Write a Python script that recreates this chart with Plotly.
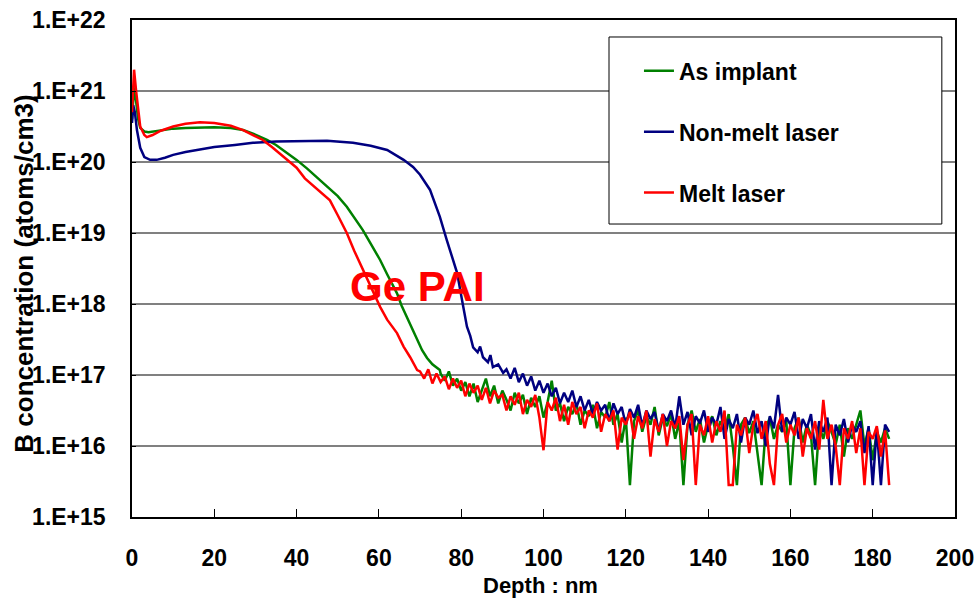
import plotly.graph_objects as go

# ---------------- data (depth in nm, concentration as log10(atoms/cm3)) ----------------
green_depth = [0, 0.5, 1, 1.5, 2, 3, 4, 6, 8, 10, 13, 16.5, 20, 24, 27, 29.4, 31, 32.8, 35, 37,
               40, 42.5, 45.2, 48, 50, 52.2, 54, 56.1, 58, 60.3, 62, 64.4, 65.5, 66.8, 68, 69.3,
               70.5, 71.7, 73, 74.8]
green_log = [20.6, 21.05, 20.85, 20.6, 20.48, 20.43, 20.42, 20.44, 20.46, 20.47, 20.48, 20.49,
             20.49, 20.48, 20.45, 20.40, 20.36, 20.31, 20.24, 20.16, 20.03, 19.91, 19.77, 19.63,
             19.52, 19.37, 19.22, 19.04, 18.85, 18.62, 18.42, 18.15, 17.98, 17.82, 17.65, 17.49,
             17.35, 17.24, 17.15, 17.07]
green_tail_depth = list(range(75, 185))
green_tail_log = [17.02, 16.92, 17.05, 16.85, 16.95, 16.78, 16.9, 16.7, 16.88, 16.62,
                  16.8, 16.95, 16.7, 16.85, 16.6, 16.78, 16.65, 16.5, 16.75, 16.6,
                  16.72, 16.45, 16.68, 16.55, 16.7, 16.4, 16.62, 16.92, 16.5, 16.6,
                  16.35, 16.55, 16.45, 16.6, 16.3, 16.5, 16.42, 16.58, 16.25, 16.48,
                  16.4, 16.62, 16.3, 16.45, 16.05, 16.4, 15.45, 16.35, 16.5, 16.2,
                  16.42, 16.3, 16.55, 16.15, 16.4, 16.28, 16.45, 16.1, 16.35, 15.45,
                  16.3, 16.5, 16.2, 16.38, 16.05, 16.3, 16.42, 16.15, 16.35, 16.22,
                  16.45, 16.0, 15.45, 16.3, 16.4, 16.18, 16.35, 15.9, 15.45, 16.25,
                  16.4, 16.1, 16.3, 16.2, 16.35, 15.45, 16.25, 16.4, 16.05, 16.3,
                  16.15, 15.45, 16.28, 16.1, 16.35, 16.2, 16.02, 16.3, 15.85, 16.25,
                  16.1, 16.3, 16.5, 16.0, 16.25, 15.8, 16.2, 16.05, 16.25, 16.1]

blue_depth = [0, 0.3, 0.7, 1.2, 2, 3, 4.4, 6, 8, 10, 13, 16.5, 20, 25, 29.4, 35, 41.6, 47.4,
              53.7, 58, 62, 64, 66, 68.3, 70, 72.4, 74.8, 76.5, 79, 80.5, 81.4, 82.2, 82.9,
              84, 84.6, 85.3, 86.5, 87.1, 87.7, 89, 90.2]
blue_log = [20.55, 20.8, 20.7, 20.45, 20.2, 20.07, 20.03, 20.03, 20.06, 20.1, 20.14, 20.18,
            20.21, 20.24, 20.27, 20.29, 20.30, 20.30, 20.27, 20.23, 20.17, 20.10, 20.03,
            19.93, 19.82, 19.61, 19.23, 18.9, 18.44, 17.96, 17.68, 17.55, 17.39, 17.32,
            17.4, 17.25, 17.18, 17.28, 17.11, 17.15, 17.03]
blue_tail_depth = list(range(91, 185))
blue_tail_log = [17.08, 16.95, 17.1, 16.9, 17.02, 16.85, 16.98, 16.78, 16.92, 16.75,
                 16.88, 16.7, 16.82, 16.6, 16.75, 16.62, 16.78, 16.55, 16.7, 16.5,
                 16.65, 16.45, 16.62, 16.5, 16.58, 16.35, 16.6, 16.45, 16.55, 16.3,
                 16.52, 16.4, 16.58, 16.28, 16.5, 16.38, 16.48, 16.2, 16.45, 16.35,
                 16.5, 16.25, 16.7, 16.3, 16.48, 16.15, 16.42, 16.32, 16.5, 16.2,
                 16.4, 16.3, 16.55, 16.1, 16.38, 16.25, 16.45, 16.05, 16.4, 16.3,
                 16.5, 16.18, 16.35, 16.0, 16.42, 16.25, 16.72, 16.2, 16.4, 16.3,
                 16.48, 16.1, 16.38, 16.25, 16.45, 15.95, 16.35, 16.2, 16.4, 15.45,
                 16.3, 16.15, 16.38, 16.05, 16.3, 16.2, 16.35, 15.9, 16.28, 15.45,
                 16.25, 15.45, 16.3, 16.2]

red_depth = [0, 0.5, 1, 1.5, 2, 3, 3.6, 5, 7, 10, 13, 16.5, 20, 24, 27, 29.4, 31.8, 34, 37.7,
             40, 42, 45, 48.1, 50, 52.2, 54, 56.1, 58, 60.3, 62, 64.4, 66, 67.6, 69.3]
red_log = [20.7, 21.3, 21.0, 20.7, 20.5, 20.38, 20.35, 20.38, 20.44, 20.5, 20.54, 20.56,
           20.55, 20.51, 20.45, 20.38, 20.31, 20.21, 20.03, 19.92, 19.77, 19.62, 19.46,
           19.25, 19.0, 18.75, 18.48, 18.25, 17.96, 17.78, 17.59, 17.4, 17.25, 17.07]
red_tail_depth = list(range(70, 185))
red_tail_log = [17.05, 16.95, 17.08, 16.88, 17.02, 16.9, 16.98, 16.8, 16.95, 16.82,
                16.92, 16.7, 16.88, 16.75, 16.85, 16.65, 16.82, 16.6, 16.78, 16.68,
                16.72, 16.5, 16.7, 16.58, 16.75, 16.45, 16.65, 16.55, 16.72, 16.4,
                15.94, 16.62, 16.5, 16.68, 16.35, 16.58, 16.3, 16.62, 16.45, 16.55,
                16.25, 16.5, 16.4, 16.6, 16.2, 16.45, 16.35, 16.5, 15.95, 16.4,
                16.3, 16.48, 16.1, 16.42, 16.25, 16.5, 15.85, 16.38, 16.2, 16.45,
                16.0, 16.35, 16.25, 16.42, 15.8, 16.3, 16.45, 15.45, 16.3, 16.15,
                16.42, 16.05, 16.35, 16.2, 16.5, 15.45, 15.45, 16.3, 16.15, 16.4,
                15.9, 16.3, 16.45, 16.1, 16.35, 15.75, 15.45, 16.3, 16.45, 16.05,
                16.3, 16.15, 16.4, 15.85, 16.25, 16.1, 16.35, 15.95, 16.65, 16.1,
                16.3, 16.0, 15.45, 16.25, 16.1, 16.35, 15.9, 16.25, 15.45, 16.2,
                16.1, 16.28, 15.85, 16.22, 15.45]

series_names = ["As implant", "Non-melt laser", "Melt laser"]
series_colors = ["#008000", "#000080", "#FF0000"]
y_tick_exponents = [15, 16, 17, 18, 19, 20, 21, 22]
y_tick_labels = ["1.E+%d" % e for e in y_tick_exponents]
x_tick_values = [0, 20, 40, 60, 80, 100, 120, 140, 160, 180, 200]

FONT = "Liberation Sans, Arial, sans-serif"

fig = go.Figure()
all_series = [
    (green_depth + green_tail_depth, green_log + green_tail_log),
    (blue_depth + blue_tail_depth, blue_log + blue_tail_log),
    (red_depth + red_tail_depth, red_log + red_tail_log),
]
for i, (xs, logs) in enumerate(all_series):
    fig.add_trace(go.Scatter(
        x=xs, y=[10.0 ** v for v in logs], mode="lines", name=series_names[i],
        legendgroup="g%d" % i, cliponaxis=False,
        line=dict(color=series_colors[i], width=2.5),
    ))

fig.update_layout(
    width=974, height=600,
    margin=dict(l=132, r=19, t=20, b=83, autoexpand=False),
    paper_bgcolor="white", plot_bgcolor="white",
    font=dict(family=FONT, size=22, color="black", weight="bold"),
    showlegend=True,
    legend=dict(x=0.616, y=0.941, xanchor="left", yanchor="top",
                bgcolor="rgba(0,0,0,0)", borderwidth=0,
                font=dict(family=FONT, size=23, color="black", weight="bold"),
                tracegroupgap=28),
    xaxis=dict(range=[0, 200], tickvals=x_tick_values, ticks="inside", ticklen=8,
               tickcolor="black", showline=True, linecolor="black", linewidth=1.5,
               mirror=True, showgrid=False, zeroline=False, automargin=False,
               tickfont=dict(family=FONT, size=23, weight="bold"),
               ticklabelstandoff=20, ticklabeloverflow="allow"),
    yaxis=dict(type="log", range=[15, 22],
               tickmode="array",
               tickvals=[10.0 ** e for e in y_tick_exponents], ticktext=y_tick_labels,
               ticks="inside", ticklen=4, tickcolor="black", automargin=False,
               showline=True, linecolor="black", linewidth=1.5, mirror=True,
               showgrid=True, gridcolor="#808080", gridwidth=1.5, zeroline=False,
               tickfont=dict(family=FONT, size=23, color="black", weight="bold"),
               ticklabelstandoff=20),
    shapes=[dict(type="rect", xref="paper", yref="paper",
                 x0=0.5796, x1=0.984, y0=0.5895, y1=0.9658,
                 line=dict(color="black", width=1), fillcolor="white", layer="above")],
    annotations=[
        dict(text="Ge PAI", x=69.5, y=18.24, xref="x", yref="y", showarrow=False,
             font=dict(family=FONT, size=42, color="#FF0000", weight="bold")),
        dict(text="Depth : nm", x=0.496, y=-0.137, xref="paper", yref="paper",
             showarrow=False, xanchor="center", yanchor="middle",
             font=dict(family=FONT, size=22, weight="bold")),
        dict(text="B concentration (atoms/cm3)", x=-0.131, y=0.49, xref="paper",
             yref="paper", showarrow=False, textangle=-90, xanchor="center",
             yanchor="middle", font=dict(family=FONT, size=26, weight="bold")),
    ],
)

fig.write_html("out.html", config={"displayModeBar": False},
               post_script="document.body.style.margin='0';document.body.style.overflow='hidden';")
